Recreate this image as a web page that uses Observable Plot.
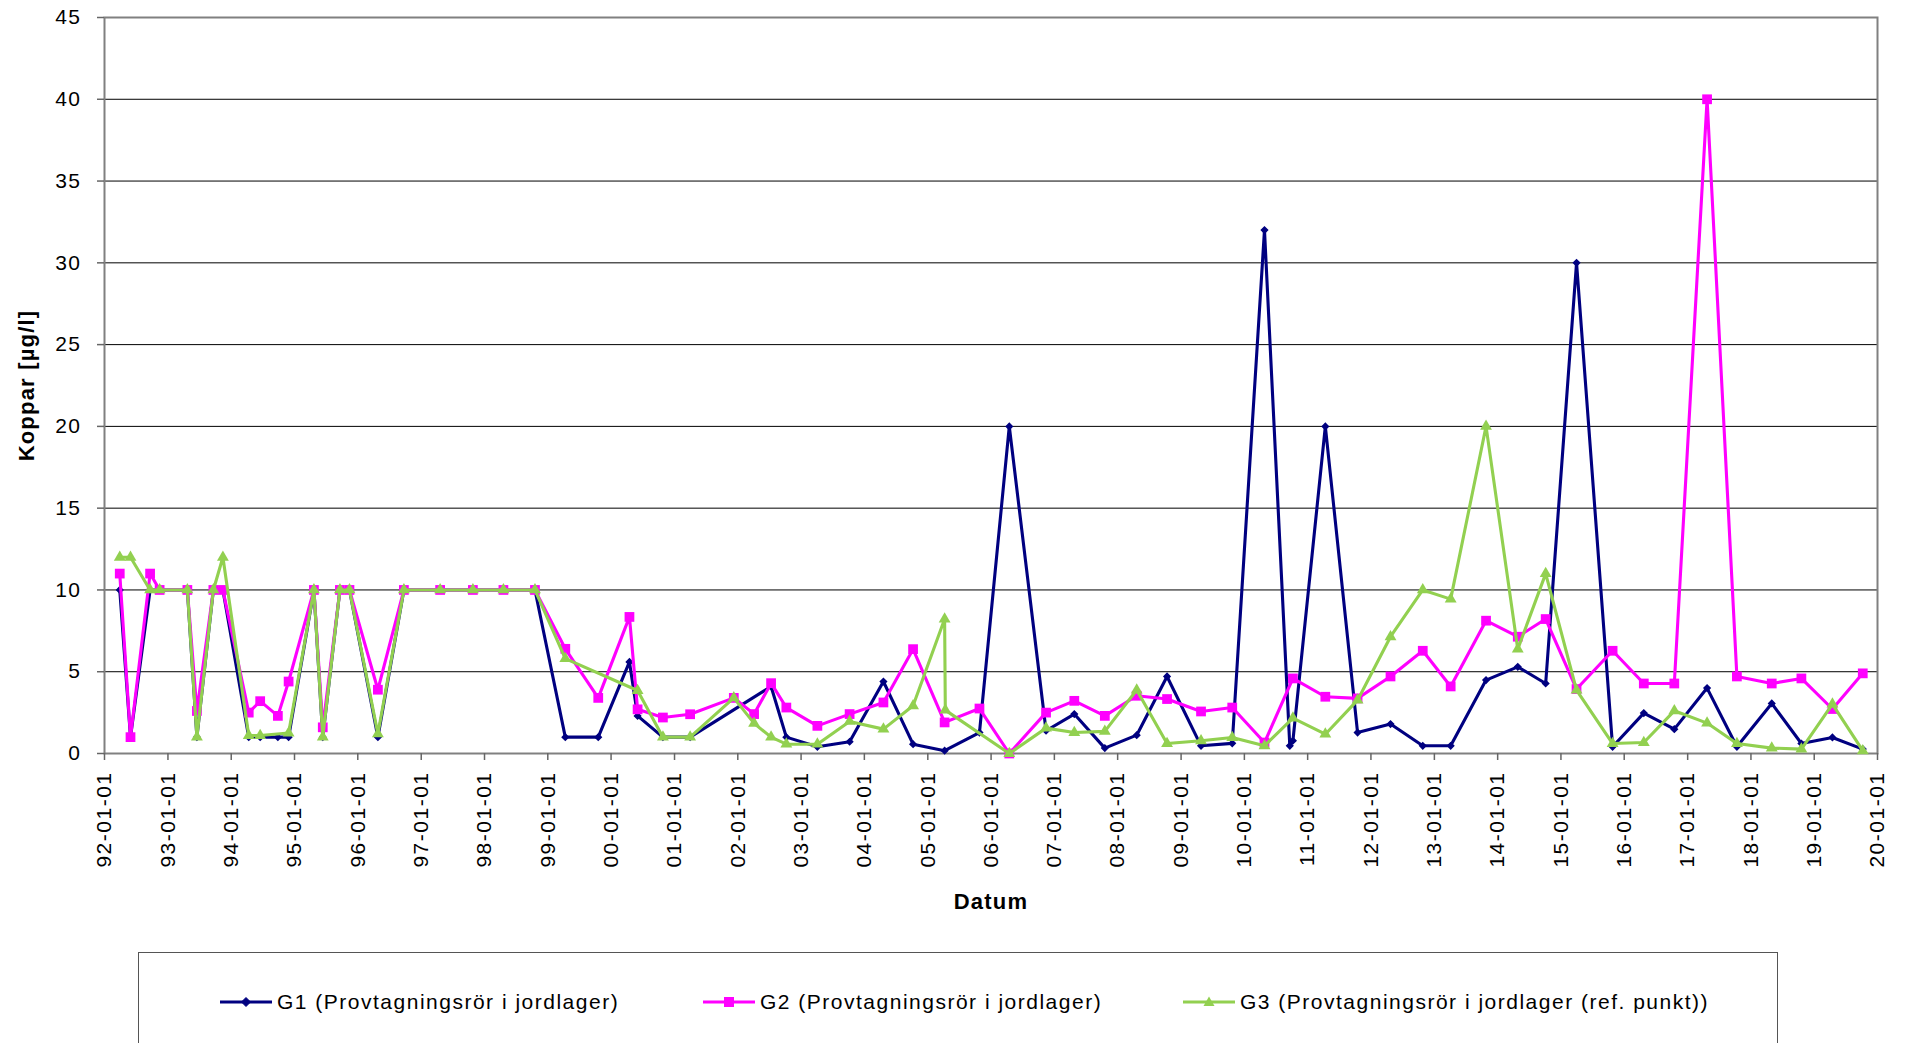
<!DOCTYPE html>
<html>
<head>
<meta charset="utf-8">
<script src="https://cdn.jsdelivr.net/npm/d3@7"></script>
<script src="https://cdn.jsdelivr.net/npm/@observablehq/plot@0.6"></script>
<style>
  html, body { margin: 0; padding: 0; background: #fff; overflow: hidden; width: 1907px; height: 1043px; }
  #wrap { position: relative; width: 1907px; height: 1043px; }
  #chart svg { display: block; }
  g[aria-label="x-axis label"], g[aria-label="y-axis label"] { font-weight: bold; font-size: 22px; letter-spacing: 1.2px; }
  #legend { position: absolute; left: 138px; top: 952px; width: 1640px; height: 140px; box-sizing: border-box;
            border: 1.5px solid #555; background: #fff;
            font-family: "Liberation Sans", Arial, sans-serif; font-size: 21px; letter-spacing: 1.5px; color: #000; }
  .item { position: absolute; top: 37px; height: 24px; display: flex; align-items: center; white-space: nowrap; }
  .item svg { margin-right: 5px; }
</style>
</head>
<body>
<div id="wrap">
  <div id="chart"></div>
  <div id="legend"></div>
</div>
<script>
// ---- data ----
const sampleDates = [
  "1992-03-29","1992-05-30","1992-09-20","1992-11-14","1993-04-23","1993-06-17","1993-09-20","1993-11-14",
  "1994-04-12","1994-06-17","1994-09-27","1994-11-28","1995-04-23","1995-06-13","1995-09-20","1995-11-14",
  "1996-04-26","1996-09-23","1997-04-20","1997-10-26","1998-04-20","1998-10-19","1999-04-12","1999-10-19",
  "2000-04-16","2000-06-02","2000-10-26","2001-04-01","2001-12-09","2002-04-05","2002-07-12","2002-10-08",
  "2003-04-05","2003-10-08","2004-04-20","2004-10-08","2005-04-08","2005-04-12","2005-10-26","2006-04-16",
  "2006-11-14","2007-04-26","2007-10-19","2008-04-20","2008-10-12","2009-04-26","2009-10-23","2010-04-27",
  "2010-09-20","2010-10-08","2011-04-13","2011-10-16","2012-04-23","2012-10-26","2013-04-05","2013-10-26",
  "2014-04-27","2014-10-05","2015-04-01","2015-10-26","2016-04-23","2016-10-16","2017-04-23","2017-10-12",
  "2018-05-01","2018-10-19","2019-04-16","2019-10-08"
];
const g1Values = [
  10, 1, 10, 10, 10, 1, 10, 10,
  1, 1, 1, 1, 10, 1, 10, 10,
  1, 10, 10, 10, 10, 10, 1, 1,
  5.6, 2.3, 1, 1, null, null, 4.1, 1,
  0.41, 0.72, 4.4, 0.57, 0.17, null, 1.28, 20,
  1.39, 2.41, 0.33, 1.12, 4.71, 0.47, 0.62, 32,
  0.47, 0.78, 20, 1.28, 1.8, 0.47, 0.47, 4.49,
  5.3, 4.28, 30, 0.41, 2.47, 1.49, 4.0, 0.41,
  3.06, 0.61, 0.98, 0.27
];
const g2Values = [
  11, 1, 11, 10, 10, 2.6, 10, 10,
  2.5, 3.2, 2.3, 4.4, 10, 1.6, 10, 10,
  3.9, 10, 10, 10, 10, 10, 6.4, 3.4,
  8.35, 2.7, 2.2, 2.4, 3.4, 2.41, 4.3, 2.81,
  1.69, 2.41, 3.12, 6.38, 1.9, null, 2.75, 0,
  2.5, 3.22, 2.3, 3.53, 3.33, 2.57, 2.81, 0.67,
  null, 4.59, 3.47, 3.37, 4.71, 6.28, 4.1, 8.12,
  7.14, 8.22, 3.94, 6.28, 4.28, 4.28, 40, 4.71,
  4.28, 4.59, 2.72, 4.9
];
const g3Values = [
  12, 12, 10, 10, 10, 1, 10, 12,
  1.1, 1.1, null, 1.25, 10, 1, 10, 10,
  1.2, 10, 10, 10, 10, 10, 5.8, null,
  null, 3.85, 1, 1, 3.4, 1.84, 1.0, 0.57,
  0.57, 1.96, 1.49, 2.92, 8.22, 2.65, null, 0,
  1.55, 1.28, 1.35, 3.88, 0.61, 0.78, 0.98, 0.47,
  null, 2.16, 1.18, 3.26, 7.14, 10, 9.44, 20,
  6.38, 11, 3.88, 0.61, 0.67, 2.61, 1.86, 0.61,
  0.33, 0.27, 3.02, 0.17
];
const seriesNames = [
  "G1 (Provtagningsrör i jordlager)",
  "G2 (Provtagningsrör i jordlager)",
  "G3 (Provtagningsrör i jordlager (ref. punkt))"
];
const seriesColors = ["#000080", "#FF00FF", "#92D050"];
const yTicks = [0, 5, 10, 15, 20, 25, 30, 35, 40, 45];
const xTickYears = [1992,1993,1994,1995,1996,1997,1998,1999,2000,2001,2002,2003,2004,2005,2006,
                    2007,2008,2009,2010,2011,2012,2013,2014,2015,2016,2017,2018,2019,2020];
const yLabel = "Koppar [µg/l]";
const xLabel = "Datum";

// ---- build ----
const allValues = [g1Values, g2Values, g3Values];
const seriesRows = allValues.map((vals, i) =>
  sampleDates.map((d, j) => ({date: new Date(d + "T00:00:00Z"), value: vals[j], series: seriesNames[i]}))
    .filter(r => r.value != null)
);
const xTicks = xTickYears.map(y => new Date(Date.UTC(y, 0, 1)));

const markerStyles = [
  {symbol: "diamond2", r: 2.8, strokeWidth: 1.4},
  {symbol: "square", r: 5.5, strokeWidth: 0},
  {symbol: "triangle", r: 4.4, strokeWidth: 0}
];

const marks = [
  Plot.gridY(yTicks.filter(t => t > 0 && t < 45), {stroke: "#000", strokeOpacity: 1, strokeWidth: 1}),
  Plot.frame({stroke: "#808080", strokeWidth: 2}),
  Plot.axisY(yTicks, {tickSize: 7, tickPadding: 16, stroke: "#666", strokeWidth: 1.5,
    label: yLabel, labelAnchor: "center", labelOffset: 86, labelArrow: "none"}),
  Plot.axisX(xTicks, {tickSize: 7, tickPadding: 11, tickRotate: -90, stroke: "#666", strokeWidth: 1.5,
    tickFormat: d3.utcFormat("%y-%m-%d"),
    label: xLabel, labelAnchor: "center", labelOffset: 155, labelArrow: "none"})
];
seriesRows.forEach((rows, i) => {
  marks.push(Plot.line(rows, {x: "date", y: "value", stroke: seriesColors[i], strokeWidth: 3.1}));
  const m = markerStyles[i];
  marks.push(Plot.dot(rows, {x: "date", y: "value", symbol: m.symbol, r: m.r,
    fill: seriesColors[i], stroke: seriesColors[i], strokeWidth: m.strokeWidth}));
});

const chart = Plot.plot({
  width: 1907,
  height: 940,
  marginLeft: 104,
  marginRight: 30,
  marginTop: 17,
  marginBottom: 187,
  style: "font-family: 'Liberation Sans', Arial, sans-serif; font-size: 21px; letter-spacing: 1.5px; background: #fff; color: #000; overflow: visible;",
  x: {type: "utc", domain: [xTicks[0], xTicks[xTicks.length - 1]]},
  y: {domain: [0, 45]},
  marks
});
document.getElementById("chart").appendChild(chart);

// ---- legend ----
const legend = document.getElementById("legend");
const legendX = [81, 564, 1044];
const markerSvg = [
  c => `<polygon points="26,5.5 30.5,10 26,14.5 21.5,10" fill="${c}" stroke="${c}"/>`,
  c => `<rect x="21" y="5" width="10" height="10" fill="${c}"/>`,
  c => `<polygon points="26,4.5 31.5,14 20.5,14" fill="${c}"/>`
];
seriesNames.forEach((name, i) => {
  const div = document.createElement("div");
  div.className = "item";
  div.style.left = legendX[i] + "px";
  div.innerHTML = `<svg width="52" height="20"><line x1="0" y1="10" x2="52" y2="10" stroke="${seriesColors[i]}" stroke-width="3"/>${markerSvg[i](seriesColors[i])}</svg><span>${name}</span>`;
  legend.appendChild(div);
});
</script>
</body>
</html>
